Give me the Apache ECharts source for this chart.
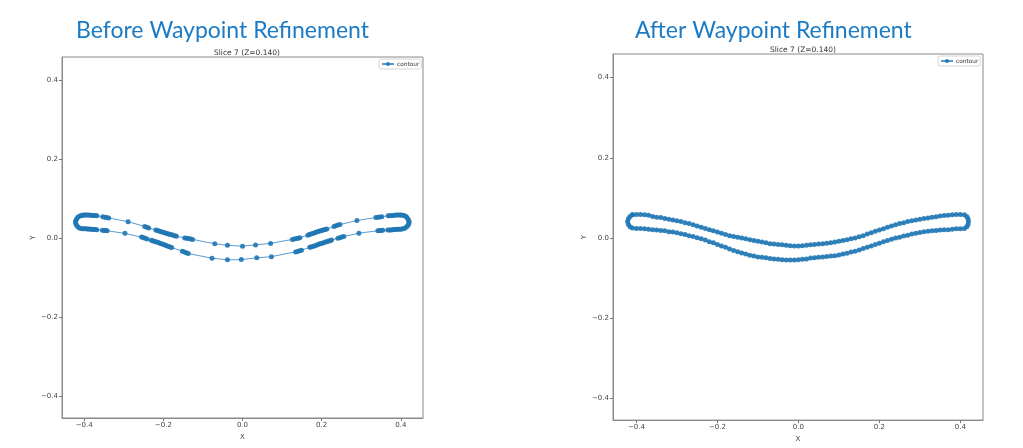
<!DOCTYPE html>
<html><head><meta charset="utf-8">
<script src="https://cdn.jsdelivr.net/npm/echarts@6/dist/echarts.min.js"></script>
<style>html,body{margin:0;padding:0;background:#fff}#c{width:1023px;height:448px}</style>
</head><body><div id="c"></div>
<script>
// ---- tick labels ----
const tickValues = [-0.4, -0.2, 0, 0.2, 0.4];
const seriesName = 'contour';
const panelTitles = ['Before Waypoint Refinement', 'After Waypoint Refinement'];
const sliceTitle = 'Slice 7 (Z=0.140)';

// ---- "before" waypoints (clustered) ----
const beforeUpper = [[-0.404,0.0585],[-0.400,0.059],[-0.396,0.059],[-0.392,0.059],[-0.388,0.059],[-0.384,0.0585],[-0.380,0.058],[-0.376,0.058],[-0.372,0.0575],[-0.368,0.057],
 [-0.353,0.0545],[-0.348,0.0535],[-0.343,0.0525],[-0.338,0.0515],
 [-0.289,0.042],
 [-0.247,0.030],[-0.242,0.028],[-0.237,0.026],
 [-0.219,0.0207],[-0.215,0.0195],[-0.211,0.0183],[-0.207,0.017],[-0.203,0.016],[-0.199,0.0147],[-0.195,0.0135],[-0.191,0.0123],[-0.187,0.011],[-0.183,0.010],[-0.179,0.0087],[-0.175,0.0075],[-0.171,0.0063],[-0.167,0.0052],
 [-0.146,0.001],[-0.141,0.0002],[-0.136,-0.0008],[-0.131,-0.0018],[-0.126,-0.0028],
 [-0.070,-0.014],[-0.038,-0.0178],[0.000,-0.020],[0.033,-0.0167],[0.071,-0.0129],
 [0.126,-0.0028],[0.131,-0.0018],[0.136,-0.0008],[0.141,0.0003],[0.145,0.0015],
 [0.165,0.008],[0.169,0.0095],[0.173,0.011],[0.177,0.012],[0.181,0.0135],[0.185,0.015],[0.189,0.0165],[0.193,0.018],[0.197,0.019],[0.201,0.020],[0.205,0.0215],[0.209,0.022],[0.213,0.0235],
 [0.231,0.030],[0.236,0.0315],[0.241,0.0335],[0.246,0.035],
 [0.289,0.045],
 [0.337,0.0525],[0.342,0.053],[0.347,0.054],[0.352,0.0545],
 [0.368,0.057],[0.372,0.0573],[0.376,0.0577],[0.380,0.058],[0.384,0.0583],[0.388,0.0587],[0.392,0.059],[0.396,0.059],[0.400,0.059],[0.404,0.0585],[0.408,0.058]];
const beforeRightEnd = [[0.412,0.056],[0.415,0.053],[0.418,0.049],[0.420,0.045],[0.421,0.041],[0.420,0.037],[0.418,0.033],[0.415,0.029],[0.411,0.026]];
const beforeLower = [[0.407,0.0245],[0.403,0.0238],[0.399,0.0232],[0.395,0.0229],[0.391,0.0226],[0.387,0.0223],[0.383,0.022],[0.379,0.0217],[0.375,0.0213],[0.371,0.021],[0.367,0.0208],
 [0.354,0.0205],[0.350,0.020],[0.346,0.0195],[0.342,0.019],
 [0.294,0.013],
 [0.256,0.0045],[0.251,0.003],[0.246,0.0015],[0.241,0.0003],
 [0.225,-0.0045],[0.221,-0.006],[0.217,-0.007],[0.213,-0.0085],[0.209,-0.0095],[0.205,-0.011],[0.201,-0.0125],[0.197,-0.0135],[0.193,-0.015],[0.189,-0.0165],[0.185,-0.018],[0.181,-0.0195],[0.177,-0.021],[0.173,-0.022],[0.170,-0.023],
 [0.149,-0.030],[0.144,-0.0315],[0.139,-0.0333],[0.134,-0.0345],
 [0.073,-0.0465],[0.036,-0.0495],[-0.003,-0.054],[-0.038,-0.0545],[-0.077,-0.0505],
 [-0.137,-0.0385],[-0.142,-0.0365],[-0.147,-0.0346],[-0.152,-0.0328],
 [-0.179,-0.0234],[-0.183,-0.022],[-0.187,-0.0205],[-0.191,-0.019],[-0.195,-0.0175],[-0.199,-0.016],[-0.203,-0.0145],[-0.207,-0.013],[-0.211,-0.0115],[-0.215,-0.010],[-0.219,-0.0085],[-0.223,-0.0072],[-0.227,-0.006],[-0.230,-0.005],
 [-0.241,-0.0015],[-0.246,0.0001],[-0.251,0.0017],[-0.255,0.003],
 [-0.297,0.0125],
 [-0.342,0.019],[-0.346,0.0195],[-0.350,0.020],[-0.354,0.0205],
 [-0.368,0.0215],[-0.372,0.022],[-0.376,0.0225],[-0.380,0.023],[-0.384,0.023],[-0.388,0.0233],[-0.392,0.0236],[-0.396,0.024],[-0.400,0.024],[-0.404,0.0243],[-0.408,0.0247]];
const beforeLeftEnd = [[-0.412,0.026],[-0.416,0.029],[-0.419,0.033],[-0.421,0.037],[-0.422,0.041],[-0.421,0.045],[-0.419,0.049],[-0.416,0.053],[-0.412,0.056],[-0.408,0.058],[-0.404,0.0585]];

// ---- "after" waypoints (evenly spaced) ----
const afterUpper = [[-0.41,0.058],[-0.40,0.059],[-0.39,0.059],[-0.38,0.058],[-0.37,0.057],[-0.36,0.054],[-0.35,0.052],[-0.34,0.051],[-0.33,0.049],[-0.32,0.047],
 [-0.31,0.045],[-0.30,0.043],[-0.29,0.041],[-0.28,0.038],[-0.27,0.036],[-0.26,0.033],[-0.25,0.030],[-0.24,0.027],[-0.23,0.024],[-0.22,0.021],
 [-0.21,0.018],[-0.20,0.015],[-0.19,0.012],[-0.18,0.009],[-0.17,0.006],[-0.16,0.004],[-0.15,0.002],[-0.14,0.000],[-0.13,-0.002],[-0.12,-0.004],
 [-0.11,-0.006],[-0.10,-0.008],[-0.09,-0.010],[-0.08,-0.012],[-0.07,-0.014],[-0.06,-0.015],[-0.05,-0.016],[-0.04,-0.017],[-0.03,-0.018],[-0.02,-0.019],
 [-0.01,-0.020],[0.00,-0.020],[0.01,-0.019],[0.02,-0.018],[0.03,-0.017],[0.04,-0.016],[0.05,-0.015],[0.06,-0.014],[0.07,-0.013],[0.08,-0.012],
 [0.09,-0.010],[0.10,-0.008],[0.11,-0.006],[0.12,-0.004],[0.13,-0.002],[0.14,0.000],[0.15,0.003],[0.16,0.006],[0.17,0.010],[0.18,0.013],
 [0.19,0.017],[0.20,0.020],[0.21,0.023],[0.22,0.027],[0.23,0.030],[0.24,0.033],[0.25,0.036],[0.26,0.038],[0.27,0.041],[0.28,0.043],
 [0.29,0.045],[0.30,0.047],[0.31,0.049],[0.32,0.050],[0.33,0.052],[0.34,0.053],[0.35,0.055],[0.36,0.056],[0.37,0.057],[0.38,0.058],
 [0.39,0.059],[0.40,0.059],[0.41,0.058]];
const afterRightEnd = [[0.416,0.054],[0.419,0.048],[0.420,0.041],[0.419,0.034],[0.416,0.028],[0.41,0.024]];
const afterLower = [[0.40,0.023],[0.39,0.023],[0.38,0.022],[0.37,0.021],[0.36,0.021],[0.35,0.020],[0.34,0.019],[0.33,0.018],[0.32,0.017],[0.31,0.016],
 [0.30,0.014],[0.29,0.012],[0.28,0.010],[0.27,0.007],[0.26,0.005],[0.25,0.002],[0.24,0.000],[0.23,-0.003],[0.22,-0.006],[0.21,-0.009],
 [0.20,-0.013],[0.19,-0.016],[0.18,-0.020],[0.17,-0.023],[0.16,-0.026],[0.15,-0.030],[0.14,-0.033],[0.13,-0.035],[0.12,-0.038],[0.11,-0.040],
 [0.10,-0.042],[0.09,-0.044],[0.08,-0.045],[0.07,-0.046],[0.06,-0.047],[0.05,-0.048],[0.04,-0.049],[0.03,-0.050],[0.02,-0.052],[0.01,-0.053],
 [0.00,-0.054],[-0.01,-0.055],[-0.02,-0.055],[-0.03,-0.055],[-0.04,-0.054],[-0.05,-0.053],[-0.06,-0.052],[-0.07,-0.051],[-0.08,-0.049],[-0.09,-0.048],
 [-0.10,-0.047],[-0.11,-0.045],[-0.12,-0.043],[-0.13,-0.040],[-0.14,-0.037],[-0.15,-0.034],[-0.16,-0.031],[-0.17,-0.027],[-0.18,-0.023],[-0.19,-0.020],
 [-0.20,-0.016],[-0.21,-0.012],[-0.22,-0.009],[-0.23,-0.005],[-0.24,-0.002],[-0.25,0.001],[-0.26,0.004],[-0.27,0.006],[-0.28,0.009],[-0.29,0.011],
 [-0.30,0.013],[-0.31,0.015],[-0.32,0.016],[-0.33,0.018],[-0.34,0.019],[-0.35,0.020],[-0.36,0.021],[-0.37,0.022],[-0.38,0.023],[-0.39,0.024],
 [-0.40,0.024],[-0.41,0.025]];
const afterLeftEnd = [[-0.416,0.028],[-0.420,0.034],[-0.422,0.041],[-0.420,0.048],[-0.416,0.054],[-0.41,0.058]];

const beforeData = beforeUpper.concat(beforeRightEnd, beforeLower, beforeLeftEnd);
const afterData = afterUpper.concat(afterRightEnd, afterLower, afterLeftEnd);

const fmt = v => (v < 0 ? '\u2212' : '') + Math.abs(v).toFixed(1);
const axisCommon = (name, gap) => ({
  type: 'value', name: name, nameLocation: 'middle', nameGap: gap,
  nameTextStyle: { fontSize: 7, color: '#444', fontFamily: 'DejaVu Sans' },
  splitLine: { show: false },
  axisLine: { show: true, onZero: false, lineStyle: { color: '#8a8a8a', width: 1 } },
  axisTick: { show: true, length: 3, lineStyle: { color: '#777' }, customValues: tickValues },
  axisLabel: { fontSize: 7, color: '#444', margin: 4, fontFamily: 'DejaVu Sans', customValues: tickValues, formatter: fmt }
});
const xAxes = [
  Object.assign(axisCommon('X', 14), { gridIndex: 0, min: -0.456, max: 0.456 }),
  Object.assign(axisCommon('X', 15), { gridIndex: 1, min: -0.458, max: 0.456 })
];
const yAxes = [
  Object.assign(axisCommon('Y', 20), { gridIndex: 0, min: -0.455, max: 0.459 }),
  Object.assign(axisCommon('Y', 24), { gridIndex: 1, min: -0.454, max: 0.459 })
];
const blue = '#1f77b4';
const legendCommon = { data: [seriesName], padding: [2, 2, 2, 2], itemWidth: 12, itemHeight: 5, itemGap: 4, borderColor: '#d6d6d6', borderWidth: 1, borderRadius: 2,
  textStyle: { fontSize: 5.8, color: '#333', fontFamily: 'DejaVu Sans', padding: [0, 0, 0, -2] } };
const chart = echarts.init(document.getElementById('c'), null, { renderer: 'canvas' });
chart.setOption({
  animation: false,
  backgroundColor: '#fff',
  title: [
    { text: panelTitles[0], left: 71, top: 14, textStyle: { fontFamily: 'Lato', fontSize: 23, fontWeight: 'normal', color: '#1b7bc4' } },
    { text: panelTitles[1], left: 630, top: 14, textStyle: { fontFamily: 'Lato', fontSize: 23, fontWeight: 'normal', color: '#1b7bc4' } },
    { text: sliceTitle, left: 242, top: 44, textAlign: 'center', textStyle: { fontFamily: 'DejaVu Sans', fontSize: 7.5, fontWeight: 'normal', color: '#333' } },
    { text: sliceTitle, left: 798, top: 41, textAlign: 'center', textStyle: { fontFamily: 'DejaVu Sans', fontSize: 7.5, fontWeight: 'normal', color: '#333' } }
  ],
  legend: [
    Object.assign({ left: 379, top: 59 }, legendCommon),
    Object.assign({ left: 938, top: 56 }, legendCommon)
  ],
  grid: [
    { left: 62, top: 57, width: 361, height: 361, show: true, borderColor: '#8a8a8a', borderWidth: 1 },
    { left: 613, top: 54, width: 370, height: 370, show: true, borderColor: '#8a8a8a', borderWidth: 1 }
  ],
  xAxis: xAxes,
  yAxis: yAxes,
  series: [
    { name: seriesName, type: 'line', xAxisIndex: 0, yAxisIndex: 0, data: beforeData, symbol: 'circle', symbolSize: 5,
      itemStyle: { color: blue, opacity: 0.9 }, lineStyle: { color: '#5b9bd0', width: 1 } },
    { name: seriesName, type: 'line', xAxisIndex: 1, yAxisIndex: 1, data: afterData, symbol: 'circle', symbolSize: 5,
      itemStyle: { color: blue, opacity: 0.9 }, lineStyle: { color: '#5b9bd0', width: 1 } }
  ]
});
</script></body></html>
